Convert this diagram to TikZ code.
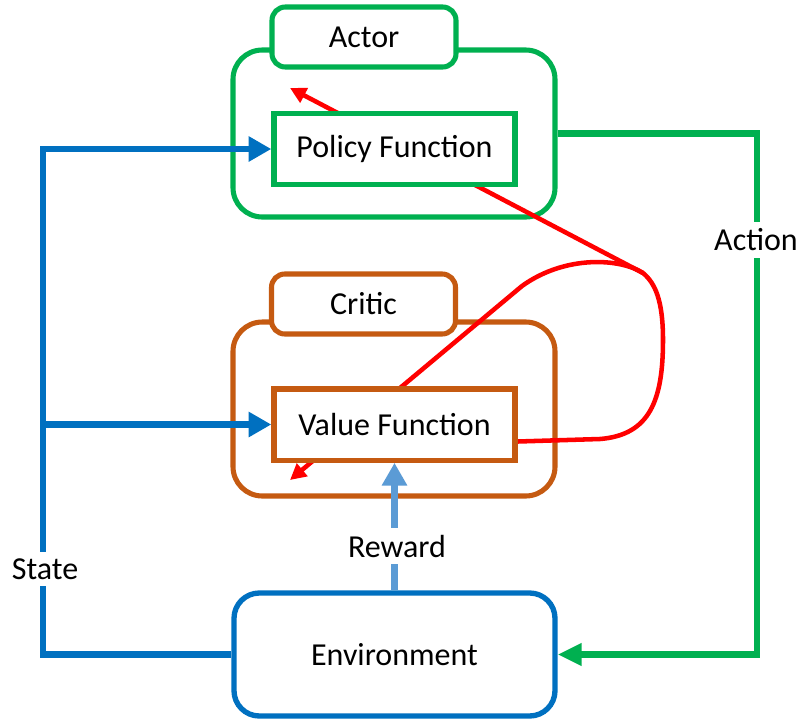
\documentclass[tikz,border=0pt]{standalone}
\usepackage{fontspec}
\setmainfont{Carlito}
\usetikzlibrary{arrows.meta}
\definecolor{actorgreen}{RGB}{0,176,80}
\definecolor{criticbrown}{RGB}{197,90,17}
\definecolor{stateblue}{RGB}{0,112,192}
\definecolor{rewardblue}{RGB}{91,155,213}
\pgfdeclarelayer{back}
\pgfdeclarelayer{mid}
\pgfsetlayers{back,mid,main}
\tikzset{
  box/.style={draw, fill=white, line width=4pt, inner sep=0pt,
    font=\fontsize{24}{28}\selectfont},
  outerbox/.style={box, line width=3.8pt, rounded corners=22pt,
    minimum width=241.5pt},
  labelbox/.style={box, line width=3.8pt, rounded corners=10pt,
    minimum width=138pt, minimum height=45pt},
  funcbox/.style={box, minimum width=180.75pt, minimum height=53.5pt},
  tag/.style={fill=white, inner sep=5pt, font=\fontsize{24}{28}\selectfont},
  stateline/.style={stateblue, line width=4.8pt,
    -{Triangle[length=17pt,width=18pt]}},
  actionline/.style={actorgreen, line width=4.8pt,
    -{Triangle[length=18pt,width=16pt]}},
  rewardline/.style={rewardblue, line width=5pt,
    -{Triangle[length=17pt,width=18pt]}},
  tdarrow/.style={red, line width=3.4pt, line join=round,
    -{Triangle[length=12pt,width=12pt]}}
}
\begin{document}
\begin{tikzpicture}[x=0.75pt,y=-0.75pt]
  \useasboundingbox (0,0) rectangle (800,722);
  % outer frames
  \begin{pgfonlayer}{back}
    \node[outerbox, draw=actorgreen, minimum height=125.25pt] %
    (actorbg) at (394,133.5) {};
    \node[outerbox, draw=criticbrown, minimum height=130.5pt] %
    (criticbg) at (394,409) {};
  \end{pgfonlayer}
  \node[labelbox, draw=actorgreen] (actor) at (364,37) {Actor};
  \node[funcbox, draw=actorgreen] (policy) at (394.5,149) {Policy Function};
  \node[labelbox, draw=criticbrown] (critic) at (363.5,304) {Critic};
  \node[funcbox, draw=criticbrown] (value) at (394.5,424.5) {Value Function};
  \node[box, draw=stateblue, rounded corners=19pt, minimum width=240.75pt,
    minimum height=92.25pt] (env) at (394.5,654.5) {Environment};
  % TD error loop
  \coordinate (join) at (643,273);
  \coordinate (ptip) at (290,88);
  \coordinate (vtip) at (290,480);
  \begin{pgfonlayer}{mid}
    \draw[tdarrow] ([yshift=-12.75pt]value.east) -- (600,439)
      .. controls (650,435) and (663,400) .. (663,340)
      .. controls (663,300) and (655,283) .. (join) -- (ptip);
    \draw[tdarrow] (join) .. controls (620,258) and (565,255) .. (522,286)
      -- (vtip);
  \end{pgfonlayer}
  % state
  \coordinate (stop) at (43,149);
  \draw[stateline] (env.west) -| (stop) -- (policy.west);
  \draw[stateline] (stop |- value.west) -- (value.west);
  \node[tag] (state) at (45,569) {State};
  % action
  \coordinate (aright) at (757,0);
  \draw[actionline] (actorbg.east) -| (aright |- env.east) -- (env.east);
  \node[tag] (action) at (756,240) {Action};
  % reward
  \draw[rewardline] (env.north) -- (value.south);
  \node[tag] (reward) at (397,546) {Reward};
\end{tikzpicture}
\end{document}
